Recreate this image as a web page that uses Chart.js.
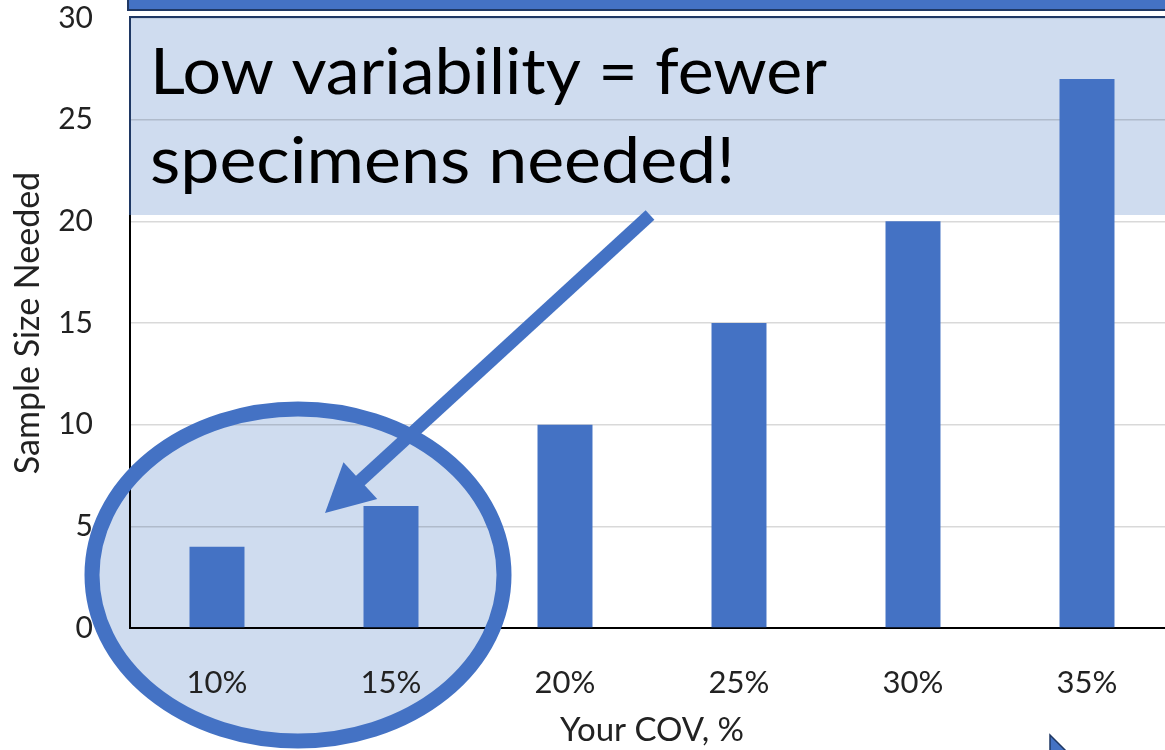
<!DOCTYPE html>
<html>
<head>
<meta charset="utf-8">
<script src="https://cdn.jsdelivr.net/npm/chart.js@4"></script>
<style>
    html, body { margin: 0; padding: 0; background: #fff; overflow: hidden; }
    #wrap { width: 1165px; height: 750px; overflow: hidden; }
</style>
</head>
<body>
<div id="wrap"><canvas id="myChart" width="1180" height="750"></canvas></div>
<script>
var covLabels = ['10%', '15%', '20%', '25%', '30%', '35%'];
var sampleSizes = [4, 6, 10, 15, 20, 27];
var yMin = 0;
var yMax = 30;
var yStep = 5;
var calloutLines = ['Low variability = fewer', 'specimens needed!'];

var FONT = 'Lato';
var BLUE = '#4472C4';
var LIGHT = '#CFDCEF';
var NAVY = '#1F3864';

// shapes pasted over the chart (callout, ellipse, arrow)
var overlay = {
    id: 'overlay',
    beforeDraw: function(chart) {
        var ctx = chart.ctx;
        ctx.save();
        ctx.fillStyle = '#fff';
        ctx.fillRect(0, 0, chart.width, chart.height);
        // callout box fill
        ctx.fillStyle = LIGHT;
        ctx.fillRect(130, 17, 1050, 198);
        // ellipse fill
        ctx.beginPath();
        ctx.ellipse(298, 575, 206, 166, 0, 0, Math.PI * 2);
        ctx.fill();
        ctx.restore();
    },
    afterDraw: function(chart) {
        var ctx = chart.ctx;
        ctx.save();

        // blue bar at the top
        ctx.fillStyle = BLUE;
        ctx.fillRect(127, 0, 1060, 9);
        ctx.strokeStyle = NAVY;
        ctx.lineWidth = 2;
        ctx.beginPath();
        ctx.moveTo(128, 0);
        ctx.lineTo(128, 10);
        ctx.lineTo(1180, 10);
        ctx.stroke();

        // callout borders
        ctx.beginPath();
        ctx.moveTo(130, 215);
        ctx.lineTo(130, 17);
        ctx.lineTo(1180, 17);
        ctx.stroke();

        // callout text, stretched to the widths seen in the picture
        ctx.fillStyle = '#000';
        ctx.textBaseline = 'alphabetic';
        ctx.font = '64px ' + FONT;
        var targets = [677, 585];
        var baselines = [94, 183];
        calloutLines.forEach(function(line, i) {
            var w = ctx.measureText(line).width;
            ctx.save();
            ctx.translate(150, baselines[i]);
            ctx.scale(targets[i] / w, 1);
            ctx.fillText(line, 0, 0);
            ctx.restore();
        });

        // ellipse outline
        ctx.strokeStyle = BLUE;
        ctx.lineWidth = 15;
        ctx.beginPath();
        ctx.ellipse(298, 575, 206, 166, 0, 0, Math.PI * 2);
        ctx.stroke();

        // arrow
        var sx = 650, sy = 215, tx = 325, ty = 513;
        var dx = tx - sx, dy = ty - sy;
        var len = Math.sqrt(dx * dx + dy * dy);
        var ux = dx / len, uy = dy / len;
        var px = -uy, py = ux;
        var headLen = 48, headHalf = 25;
        var bx = tx - ux * headLen, by = ty - uy * headLen;
        ctx.lineWidth = 13;
        ctx.lineCap = 'butt';
        ctx.beginPath();
        ctx.moveTo(sx, sy);
        ctx.lineTo(bx + ux * 4, by + uy * 4);
        ctx.stroke();
        ctx.fillStyle = BLUE;
        ctx.beginPath();
        ctx.moveTo(tx, ty);
        ctx.lineTo(bx + px * headHalf, by + py * headHalf);
        ctx.lineTo(bx - px * headHalf, by - py * headHalf);
        ctx.closePath();
        ctx.fill();

        // little pointer at bottom right
        ctx.beginPath();
        ctx.moveTo(1050, 735);
        ctx.lineTo(1050, 752);
        ctx.lineTo(1067, 752);
        ctx.closePath();
        ctx.fill();
        ctx.strokeStyle = NAVY;
        ctx.lineWidth = 1.5;
        ctx.stroke();

        ctx.restore();
    }
};

document.addEventListener('DOMContentLoaded', function() {
    var ctx = document.getElementById('myChart').getContext('2d');

    var myChart = new Chart(ctx, {
        type: 'bar',
        data: {
            labels: covLabels,
            datasets: [{
                data: sampleSizes,
                backgroundColor: BLUE,
                borderWidth: 0,
                categoryPercentage: 1,
                barPercentage: 0.316
            }]
        },
        options: {
            responsive: false,
            devicePixelRatio: 1,
            animation: false,
            layout: { padding: { top: 18, right: 6, bottom: 0, left: 0 } },
            plugins: {
                legend: { display: false },
                tooltip: { enabled: false }
            },
            scales: {
                x: {
                    grid: { display: false },
                    border: { display: true, color: '#000', width: 2 },
                    ticks: { color: '#222', padding: 28, font: { family: FONT, size: 31 } },
                    title: {
                        display: true,
                        text: 'Your COV, %',
                        color: '#222',
                        font: { family: FONT, size: 33 },
                        padding: { top: 0, bottom: 0 }
                    },
                    afterFit: function(scale) { scale.height = 122; }
                },
                y: {
                    min: yMin,
                    max: yMax,
                    grid: { color: 'rgba(0,0,0,0.15)', lineWidth: 1.5, drawTicks: false },
                    border: { display: true, color: '#000', width: 2 },
                    ticks: { stepSize: yStep, color: '#222', padding: 37, font: { family: FONT, size: 30 } },
                    title: {
                        display: true,
                        text: 'Sample Size Needed',
                        color: '#222',
                        font: { family: FONT, size: 34 },
                        padding: { top: 8, bottom: 0 }
                    },
                    afterFit: function(scale) {
                        scale.width = 130;
                        scale.paddingTop = 0;
                        scale.paddingBottom = 0;
                    }
                }
            }
        },
        plugins: [overlay]
    });
});
</script>
</body>
</html>
